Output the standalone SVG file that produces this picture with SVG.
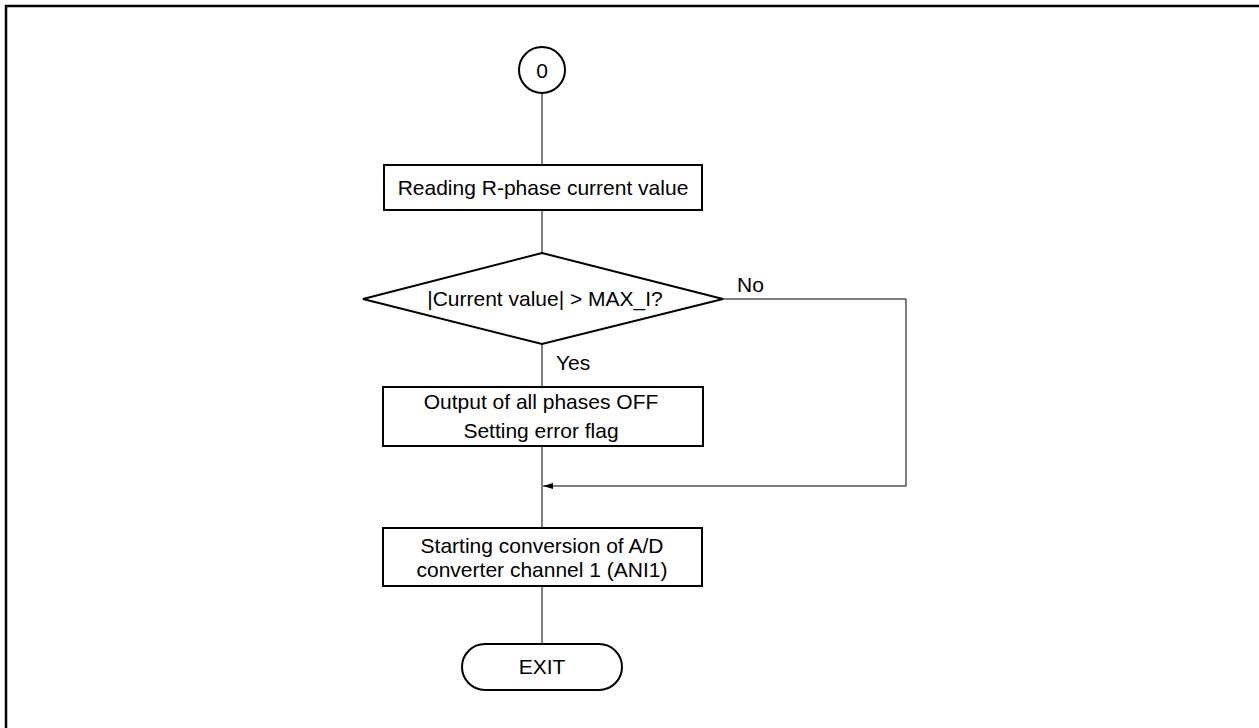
<svg xmlns="http://www.w3.org/2000/svg" width="1259" height="728" viewBox="0 0 1259 728">
  <style>
    .shape { fill: #fff; stroke: #000; stroke-width: 2; }
    .wire { fill: none; stroke: #000; stroke-width: 1; }
    .lbl { font-family: "Liberation Sans", Arial, sans-serif; font-size: 21px; fill: #000; }
    .mid { text-anchor: middle; }
  </style>
  <defs>
    <marker id="arrow" viewBox="0 0 10 6" refX="10" refY="3" markerWidth="10" markerHeight="6" markerUnits="userSpaceOnUse" orient="auto">
      <path d="M0,0 L10,3 L0,6 z" fill="#000"/>
    </marker>
  </defs>

  <rect width="1259" height="728" fill="#fff"/>
  <!-- outer frame -->
  <rect x="6" y="6" width="1262" height="740" fill="none" stroke="#000" stroke-width="2.5"/>

  <g id="connectors">
    <line class="wire" x1="542" y1="93" x2="542" y2="165"/>
    <line class="wire" x1="542" y1="210" x2="542" y2="253"/>
    <line class="wire" x1="542" y1="344" x2="542" y2="387"/>
    <line class="wire" x1="542" y1="446" x2="542" y2="528"/>
    <line class="wire" x1="542" y1="586" x2="542" y2="644"/>
    <polyline class="wire" points="723,299 906,299 906,486 543,486" marker-end="url(#arrow)"/>
    <text class="lbl" x="737" y="292">No</text>
    <text class="lbl" x="556" y="370">Yes</text>
  </g>

  <g id="start">
    <circle class="shape" cx="542" cy="70" r="23"/>
    <text class="lbl mid" x="542" y="78">0</text>
  </g>

  <g id="read">
    <rect class="shape" x="384" y="165" width="318" height="45"/>
    <text class="lbl mid" x="543" y="195">Reading R-phase current value</text>
  </g>

  <g id="check">
    <polygon class="shape" points="542,253 723,299 542,344 363,299"/>
    <text class="lbl mid" x="545" y="306">|Current value| &gt; MAX_I?</text>
  </g>

  <g id="stop">
    <rect class="shape" x="383" y="387" width="320" height="59"/>
    <text class="lbl mid" x="541" y="409">Output of all phases OFF</text>
    <text class="lbl mid" x="541" y="438">Setting error flag</text>
  </g>

  <g id="convert">
    <rect class="shape" x="383" y="528" width="319" height="58"/>
    <text class="lbl mid" x="542" y="553">Starting conversion of A/D</text>
    <text class="lbl mid" x="542" y="577">converter channel 1 (ANI1)</text>
  </g>

  <g id="exit">
    <rect class="shape" x="462" y="644" width="160" height="46" rx="23" ry="23"/>
    <text class="lbl mid" x="542" y="674">EXIT</text>
  </g>
</svg>
